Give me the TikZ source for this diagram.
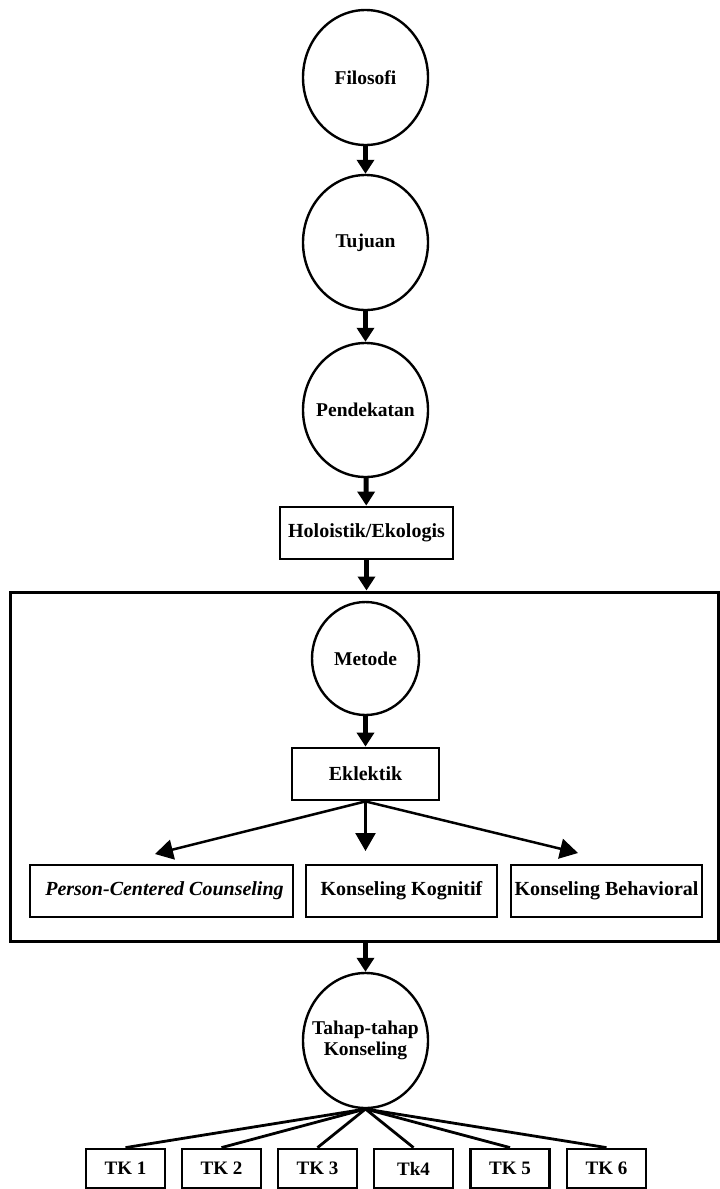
\documentclass[tikz,border=0pt]{standalone}
\usepackage{fontspec}
\setmainfont{Liberation Serif}
\usetikzlibrary{arrows.meta,shapes.geometric}
\newcommand{\zw}[1]{\makebox[0pt][c]{#1}}
\tikzset{
  circ/.style={draw, ellipse, line width=2.4pt, inner sep=0pt, align=center,
    font=\fontsize{19.5}{21}\selectfont\bfseries},
  box/.style={draw, rectangle, line width=2.8pt, inner sep=0pt,
    font=\fontsize{20}{21}\selectfont\bfseries, minimum height=52pt},
  tkbox/.style={draw, rectangle, line width=2.8pt, inner sep=0pt,
    font=\fontsize{19}{21}\selectfont\bfseries, minimum height=39pt, minimum width=79pt},
  bigarrow/.style={line width=5pt, -{Triangle[length=14pt,width=17pt]}},
  brarrow/.style={line width=2.5pt, -{Triangle[length=18pt,width=20pt]}},
  tkline/.style={line width=2.8pt},
}
\begin{document}
\begin{tikzpicture}[x=1pt,y=-1pt]
\useasboundingbox (0,0) rectangle (720,1189);
% frame
\node[draw, rectangle, line width=3pt, minimum width=708pt, minimum height=349pt, inner sep=0pt] (frame) at (364,766.5) {};
% circles
\node[circ, minimum width=125pt, minimum height=135pt] (filo) at (365.5,77.5) {\zw{Filosofi}};
\node[circ, minimum width=125pt, minimum height=135pt] (tuj) at (365.5,242.5) {\zw{Tujuan}};
\node[circ, minimum width=125pt, minimum height=134pt] (pend) at (365.5,410) {\zw{Pendekatan}};
\node[box, minimum width=173pt] (holo) at (366.5,533) {Holoistik/Ekologis};
\node[circ, minimum width=107pt, minimum height=113pt] (met) at (365.5,658.5) {\zw{Metode}};
\node[box, minimum width=147pt] (ekl) at (365.5,774) {Eklektik};
\node[box, minimum width=263pt] (pcc) at (161.5,891) {\hspace*{6pt}\textit{Person-Centered Counseling}};
\node[box, minimum width=191pt] (kog) at (401.5,891) {Konseling Kognitif};
\node[box, minimum width=191pt] (beh) at (606.5,891) {Konseling Behavioral};
\node[circ, minimum width=125pt, minimum height=135pt] (tahap) at (365.5,1040.5)
  {\zw{\begin{tabular}{@{}c@{}}Tahap-tahap\\Konseling\end{tabular}}};
% TK boxes
\node[tkbox] (tk1) at (125.5,1168.5) {TK 1};
\node[tkbox] (tk2) at (221.5,1168.5) {TK 2};
\node[tkbox] (tk3) at (317.5,1168.5) {TK 3};
\node[tkbox] (tk4) at (413.5,1168.5) {Tk4};
\node[tkbox] (tk5) at (510,1168.5) {TK 5};
\node[tkbox] (tk6) at (606.5,1168.5) {TK 6};
% vertical arrows
\draw[bigarrow] (filo) -- (tuj);
\draw[bigarrow] (tuj) -- (pend);
\draw[bigarrow] (pend) -- (holo);
\draw[bigarrow] (holo.south) -- (holo.south |- frame.north);
\draw[bigarrow] (met) -- (ekl);
\draw[bigarrow] (tahap.north |- frame.south) -- (tahap.north);
% branch arrows
\coordinate (ta) at (155,854);
\coordinate (tb) at (365.5,851);
\coordinate (tc) at (578,853);
\draw[brarrow] (ekl.south) -- (ta);
\draw[brarrow] (ekl.south) -- (tb);
\draw[brarrow] (ekl.south) -- (tc);
% TK lines
\coordinate (conv) at (365.5,1109);
\foreach \t in {tk1,tk2,tk3,tk4,tk5,tk6}
  \draw[tkline] (conv) -- (\t.north);
\end{tikzpicture}
\end{document}
